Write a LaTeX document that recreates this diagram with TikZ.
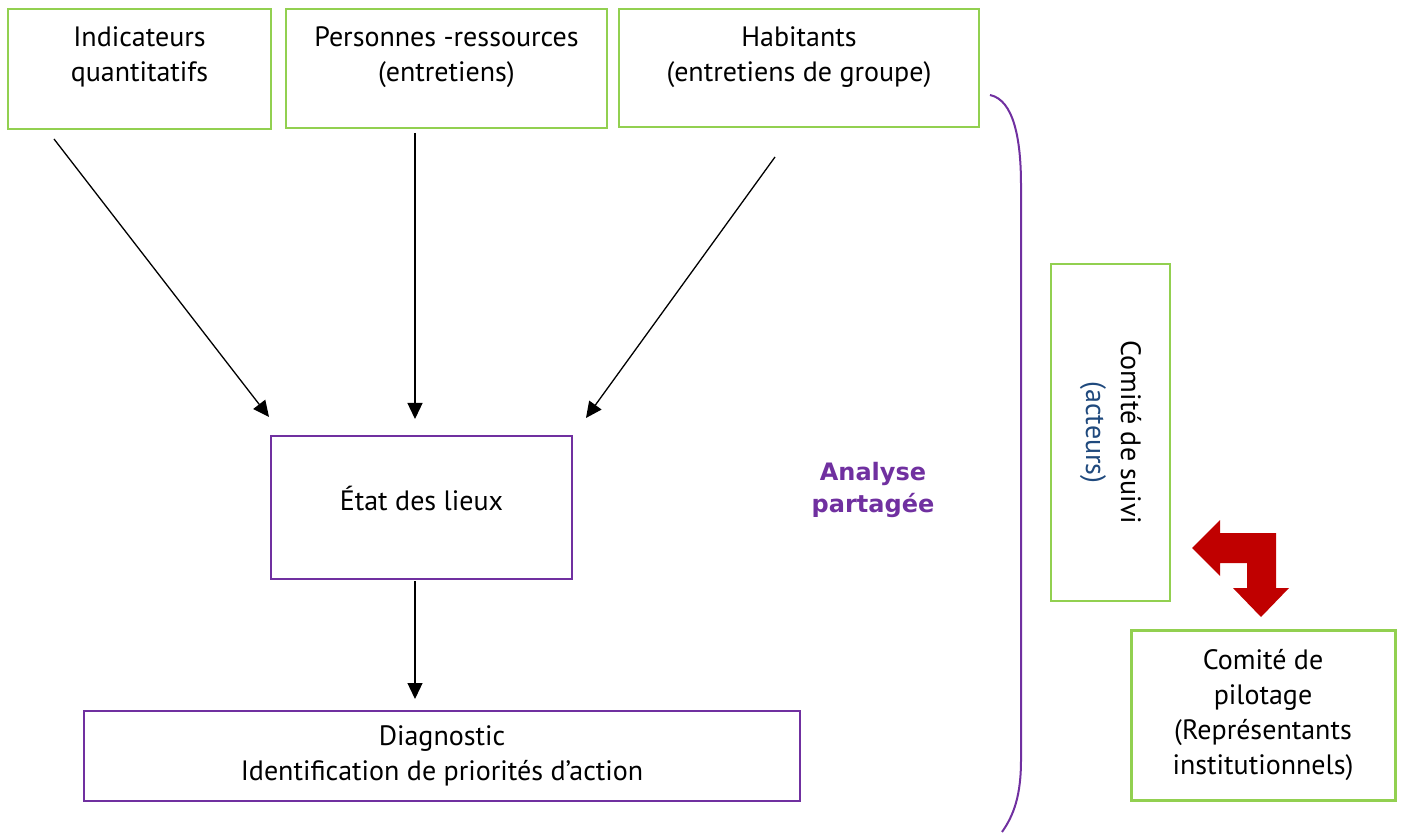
\documentclass[tikz,border=0pt]{standalone}
\usepackage{fontspec}
\setmainfont{PT Sans}
\newfontfamily\boldfont{DejaVu Sans}
\usetikzlibrary{arrows.meta,calc}
\definecolor{vert}{HTML}{92D050}
\definecolor{violet}{HTML}{7030A0}
\definecolor{bleu}{HTML}{1F497D}
\definecolor{rouge}{HTML}{C00000}

\begin{document}
\begin{tikzpicture}[x=1pt, y=1pt,
	greenbox/.style={draw=vert, line width=2pt, rectangle, inner sep=0pt},
	purplebox/.style={draw=violet, line width=2pt, rectangle, inner sep=0pt, align=center, font=\fontsize{28}{35}\selectfont},
	txt/.style={align=center, font=\fontsize{28}{35}\selectfont},
	fleche/.style={-{Triangle[length=16pt,width=15pt]}, line width=1.3pt}]
	\useasboundingbox (0,0) rectangle (1401,-834);
	\node[greenbox, minimum width=263, minimum height=120, label={[txt, yshift=12pt]center:Indicateurs\\quantitatifs}] (ind) at (139.5,-69) {};
	\node[greenbox, minimum width=321, minimum height=119, label={[txt, yshift=11pt]center:Personnes -ressources\\(entretiens)}] (pers) at (446.5,-68.5) {};
	\node[greenbox, minimum width=360, minimum height=118, label={[txt, yshift=11pt]center:Habitants\\(entretiens de groupe)}] (hab) at (799,-68) {};
	\node[purplebox, minimum width=301, minimum height=143, label={[txt, yshift=9pt]center:État des lieux}] (etat) at (421.5,-507.5) {};
	\node[purplebox, minimum width=716, minimum height=90] (diag) at (442,-756) {Diagnostic\\Identification de priorités d’action};
	\node[greenbox, minimum width=119, minimum height=337] (suivi) at (1110.5,-432.5) {};
	\node[txt, rotate=-90] at (suivi.center) {Comité de suivi\\\textcolor{bleu}{(acteurs)}};
	\node[greenbox, line width=3pt, minimum width=264, minimum height=170, txt] (pilot) at (1263,-715) {Comité de\\pilotage\\(Représentants\\institutionnels)};
	\node[text=violet, align=center, font=\boldfont\bfseries\fontsize{24}{32}\selectfont] (analyse) at (873,-490) {Analyse\\partagée};
	% fleches vers l'etat des lieux
	\draw[fleche] ($(ind.south west)+(47,-9)$) -- ($(etat.north west)+(-1,18)$);
	\draw[fleche] ($(pers.south)+(-31.5,-4)$) -- ($(etat.north)+(-6.5,16)$);
	\draw[fleche] ($(hab.south)+(-24,-29)$) -- ($(etat.north east)+(13,17)$);
	\draw[fleche] ($(etat.south)+(-6.5,-1)$) -- ($(diag.north)+(-27,11)$);
	% accolade
	\draw[violet, line width=2pt] (990,-95) .. controls (1014,-100) and (1021,-140) .. (1021,-185) -- (1021,-760) .. controls (1021,-795) and (1014,-815) .. (1002,-832);
	% fleche rouge
	\fill[rouge] (1192,-548) -- (1220,-520) -- (1220,-533) -- (1276,-533) -- (1276,-588) -- (1289,-588) -- (1261,-617) -- (1233,-588) -- (1247,-588) -- (1247,-563) -- (1220,-563) -- (1220,-576) -- cycle;
\end{tikzpicture}
\end{document}
